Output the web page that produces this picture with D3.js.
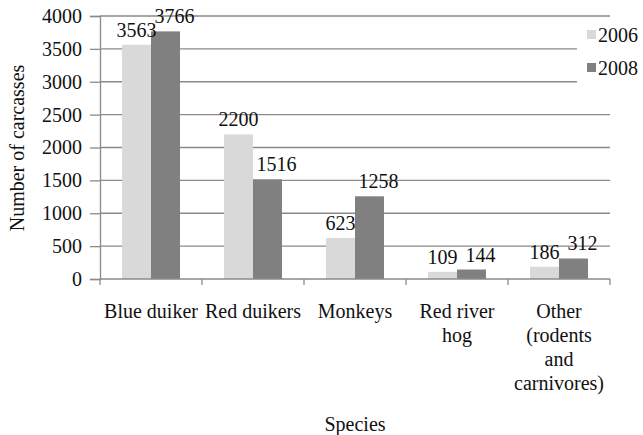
<!DOCTYPE html>
<html>
<head>
<meta charset="utf-8">
<script src="https://cdn.jsdelivr.net/npm/d3@7"></script>
<style>
text, tspan { font-family: 'Liberation Serif' !important; }
</style>
</head>
<body style="margin:0">
<svg id="chart" width="643" height="435" font-family="Liberation Serif"></svg>
<script>
// Carcasses counted per species group, 2006 vs 2008
const categories = ["Blue duiker", "Red duikers", "Monkeys", "Red river\nhog", "Other\n(rodents\nand\ncarnivores)"];
const years = ["2006", "2008"];
const values2006 = [3563, 2200, 623, 109, 186];
const values2008 = [3766, 1516, 1258, 144, 312];
const yTicks = [0, 500, 1000, 1500, 2000, 2500, 3000, 3500, 4000];

const colors = { "2006": "#d9d9d9", "2008": "#808080" };
const labelShift = { "2006": 0, "2008": 9 };
const gridColor = "#8a8a8a";

const svg = d3.select("#chart");
const x0 = 100, x1 = 610;
const yTop = 16, yBot = 279;

const x = d3.scaleBand().domain(categories).range([x0, x1]).paddingInner(0).paddingOuter(0);
const xs = d3.scaleBand().domain(years).range([0, x.bandwidth()]).paddingInner(0).paddingOuter(0.76);
const y = d3.scaleLinear().domain([0, 4000]).range([yBot, yTop]);

const txt = sel => sel
  .attr("font-family", "Liberation Serif")
  .style("font-family", d => '"Liberation Serif"')
  .attr("font-size", 20)
  .attr("fill", "#111");

// horizontal gridlines
svg.append("g").selectAll("line").data(yTicks.filter(d => d > 0)).join("line")
  .attr("x1", x0).attr("x2", x1)
  .attr("y1", d => y(d)).attr("y2", d => y(d))
  .attr("stroke", gridColor).attr("stroke-width", 1.3);

// y axis
const yAxis = d3.axisLeft(y).tickValues(yTicks).tickSize(10).tickPadding(8).tickFormat(d3.format("d"));
const gy = svg.append("g").attr("transform", `translate(${x0},0)`).call(yAxis)
  .attr("font-family", "Liberation Serif").attr("font-size", 20);
gy.select(".domain").attr("stroke", gridColor).attr("stroke-width", 1.3);
gy.selectAll(".tick line").attr("stroke", gridColor).attr("stroke-width", 1.3);
gy.selectAll(".tick text").call(txt);

// bars
const series = years.map(yr => ({ year: yr, vals: yr === "2006" ? values2006 : values2008 }));
const flat = [];
series.forEach(s => s.vals.forEach((v, i) => flat.push({ year: s.year, cat: categories[i], value: v })));

svg.append("g").selectAll("rect").data(flat).join("rect")
  .attr("x", d => x(d.cat) + xs(d.year))
  .attr("width", xs.bandwidth())
  .attr("y", d => y(d.value))
  .attr("height", d => y(0) - y(d.value))
  .attr("fill", d => colors[d.year]);

// value labels
svg.append("g").selectAll("text").data(flat).join("text")
  .attr("x", d => x(d.cat) + xs(d.year) + xs.bandwidth() / 2 + labelShift[d.year])
  .attr("y", d => y(d.value) - 8)
  .attr("text-anchor", "middle")
  .call(txt)
  .text(d => d.value);

// x axis line with category separators
const gx = svg.append("g").attr("transform", `translate(0,${yBot})`);
gx.append("line").attr("x1", x0).attr("x2", x1).attr("stroke", gridColor).attr("stroke-width", 1.3);
gx.selectAll("line.sep").data(d3.range(categories.length + 1)).join("line").attr("class", "sep")
  .attr("x1", i => x0 + i * x.step()).attr("x2", i => x0 + i * x.step())
  .attr("y1", 0).attr("y2", 6)
  .attr("stroke", gridColor).attr("stroke-width", 1.3);

// category labels
const catG = svg.append("g").selectAll("text").data(categories).join("text")
  .attr("text-anchor", "middle")
  .call(txt)
  .attr("x", d => x(d) + x.bandwidth() / 2)
  .attr("y", 318);
catG.selectAll("tspan").data(d => d.split("\n")).join("tspan")
  .attr("x", function () { return d3.select(this.parentNode).attr("x"); })
  .attr("dy", (d, i) => i === 0 ? 0 : 24)
  .text(d => d);

// axis titles
svg.append("text").attr("x", 355).attr("y", 431).attr("text-anchor", "middle")
  .call(txt).text("Species");
svg.append("text").attr("transform", "translate(24,148) rotate(-90)")
  .attr("text-anchor", "middle").call(txt).text("Number of carcasses");

// legend on a white backing
const lg = svg.append("g");
lg.append("rect").attr("x", 577).attr("y", 18).attr("width", 66).attr("height", 90).attr("fill", "#fff");
years.forEach((yr, i) => {
  const ly = 35 + i * 33;
  lg.append("rect").attr("x", 587).attr("y", ly - 5).attr("width", 9).attr("height", 9).attr("fill", colors[yr]);
  lg.append("text").attr("x", 598).attr("y", ly + 7).call(txt).text(yr);
});
</script>
</body>
</html>
